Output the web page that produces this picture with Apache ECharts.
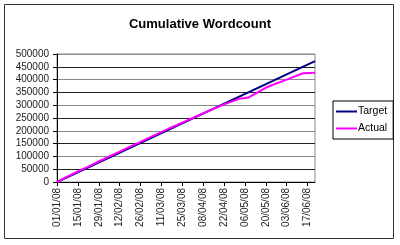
<!DOCTYPE html>
<html><head><meta charset="utf-8">
<script src="https://cdn.jsdelivr.net/npm/echarts@6/dist/echarts.min.js"></script>
<style>html,body{margin:0;padding:0;background:#fff}#c{width:400px;height:245px}</style>
</head><body><div id="c"></div>
<script>
// tick labels every 14 days from 01/01/08
var tickLabels = ['01/01/08','15/01/08','29/01/08','12/02/08','26/02/08','11/03/08','25/03/08','08/04/08','22/04/08','06/05/08','20/05/08','03/06/08','17/06/08'];
// day index (since 01/01/08) and values
var targetDays = [0, 173];
var targetValues = [0, 472000];
var actualDays = [0, 7, 14, 21, 28, 35, 42, 49, 56, 63, 70, 77, 84, 91, 98, 105, 112, 119, 122, 128, 133, 140, 147, 154, 161, 165, 173];
var actualValues = [0, 21000, 41000, 60000, 80000, 100000, 119000, 138000, 157000, 176000, 195000, 214000, 232000, 250000, 268000, 286000, 303000, 318000, 325000, 329000, 345000, 368000, 385000, 400000, 416000, 425000, 427000];

function pairs(xs, ys){ return xs.map(function(x,i){ return [x, ys[i]]; }); }

var chart = echarts.init(document.getElementById('c'));
chart.setOption({
  animation: false,
  backgroundColor: '#fff',
  textStyle: {fontFamily: 'Liberation Sans, Arial, sans-serif'},
  title: {
    text: 'Cumulative Wordcount', left: 'center', top: 13,
    textStyle: {fontSize: 13, fontWeight: 'bold', color: '#000', fontFamily: 'Liberation Sans, Arial, sans-serif'}
  },
  graphic: [{
    type: 'rect', shape: {x: 4.5, y: 4.5, width: 389, height: 234},
    style: {fill: null, stroke: '#333', lineWidth: 1}, silent: true, z: -1
  }],
  legend: {
    orient: 'vertical', left: 333, top: 101,
    itemWidth: 21, itemHeight: 2, itemGap: 6,
    padding: [5, 6, 5, 3],
    borderColor: '#000', borderWidth: 1,
    textStyle: {fontSize: 10.5, color: '#000', padding: [0,0,0,-4]},
    data: [{name: 'Target', icon: 'rect'}, {name: 'Actual', icon: 'rect'}]
  },
  grid: {left: 57, right: 85, top: 54, bottom: 63, show: true, borderColor: '#888', borderWidth: 1},
  xAxis: {
    type: 'value', min: 0, max: 173, interval: 14,
    axisLine: {lineStyle: {color: '#000', width: 1}},
    axisTick: {show: true, length: 4, lineStyle: {color: '#000'}},
    splitLine: {show: false},
    axisLabel: {
      rotate: 90, fontSize: 10, color: '#222', margin: 6,
      showMaxLabel: false,
      formatter: function(v){ return (v % 14 === 0) ? tickLabels[v/14] : ''; }
    }
  },
  yAxis: {
    type: 'value', min: 0, max: 500000, interval: 50000,
    axisLine: {show: true, lineStyle: {color: '#000', width: 1}},
    axisTick: {show: true, length: 4, lineStyle: {color: '#000'}},
    splitLine: {show: true, lineStyle: {color: ['#8a8a8a', '#222'], width: 1}},
    axisLabel: {fontSize: 10, color: '#222', margin: 8, formatter: function(v){ return String(v); }}
  },
  series: [
    {name: 'Target', type: 'line', data: pairs(targetDays, targetValues), symbol: 'none',
     lineStyle: {color: '#000080', width: 2}, itemStyle: {color: '#000080'}, z: 2},
    {name: 'Actual', type: 'line', data: pairs(actualDays, actualValues), symbol: 'none',
     lineStyle: {color: '#ff00ff', width: 2}, itemStyle: {color: '#ff00ff'}, z: 3}
  ]
});
</script></body></html>
